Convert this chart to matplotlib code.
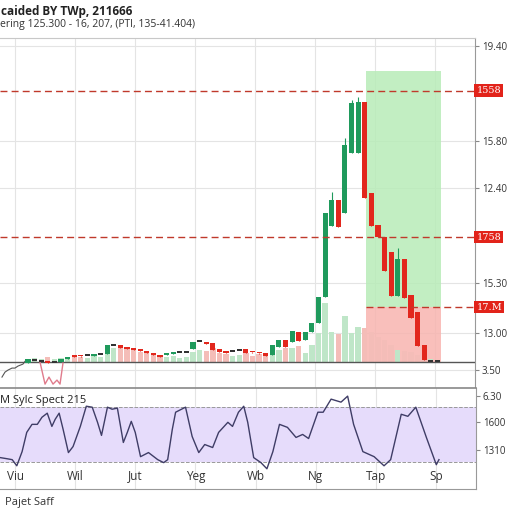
import numpy as np
import matplotlib.pyplot as plt

plt.rcParams['font.family'] = ['Open Sans', 'DejaVu Sans']

# candles (price units), one per session
opens = [1.25, 1.40, 1.35, 1.35, 1.30, 1.30, 1.45, 1.65, 1.60, 1.65,
         1.60, 1.70, 1.70, 2.15, 2.15, 2.05, 2.00, 1.95, 1.85, 1.75,
         1.65, 1.65, 1.70, 1.80, 1.80, 1.95, 2.35, 2.30, 2.25, 1.95,
         1.85, 1.85, 1.90, 1.95, 1.80, 1.75, 1.75, 1.65, 2.05, 2.40,
         2.30, 2.80, 2.40, 2.80, 3.25, 4.55, 8.10, 9.40, 8.75, 11.75,
         11.75, 14.30, 9.75, 8.15, 7.55, 6.80, 4.60, 6.45, 4.65, 3.80,
         2.15, 1.35, 1.35]
closes = [1.45, 1.40, 1.35, 1.25, 1.30, 1.45, 1.55, 1.55, 1.55, 1.65,
          1.70, 1.70, 2.15, 2.15, 2.00, 1.95, 1.90, 1.85, 1.75, 1.65,
          1.55, 1.75, 1.80, 1.80, 1.80, 2.30, 2.35, 2.20, 1.90, 1.80,
          1.75, 1.85, 1.90, 1.75, 1.75, 1.70, 1.60, 2.15, 2.40, 2.05,
          2.85, 2.35, 2.80, 3.25, 4.55, 8.75, 9.40, 8.05, 12.15, 14.25,
          14.30, 9.50, 8.10, 7.55, 5.85, 4.60, 6.45, 4.50, 3.50, 2.10,
          1.40, 1.35, 1.35]
highs = [max(o, c) for o, c in zip(opens, closes)]
highs[46] = 9.80
highs[48] = 12.50
highs[49] = 14.40
highs[50] = 14.55
highs[56] = 7.00
lows = [min(o, c) for o, c in zip(opens, closes)]

volume = [3, 4, 3, 5, 3, 4, 5, 6, 5, 4, 6, 5,
          17, 14, 15, 13, 12, 10, 9, 8, 6,
          5, 6, 4, 5,
          10, 12, 11, 14, 9, 8,
          6, 7, 9, 6, 8, 7,
          10, 12, 14,
          14, 16, 9, 17,
          29, 59, 30, 28, 46, 29, 35, 34, 30, 25, 22, 17, 12, 11, 10, 7, 5, 3, 2]

# lead-in trace and the pink dip at the start
lead_x = [-3.94, -3.48, -3.03, -2.42, -1.97, -1.52, -0.76, -0.30]
lead_y = [0.55, 0.80, 0.90, 1.00, 1.00, 1.10, 1.20, 1.40]
dip_x = [1.82, 2.58, 3.18, 3.79, 4.39, 4.85, 5.30]
dip_y = [1.30, 0.20, 0.55, 0.20, 0.40, 0.20, 1.25]

# levels
levels = [14.85, 7.55, 4.05]
level_labels = ['1558', '1758', '17.M']
zone_x = (51.2, 62.6)
zone_top, zone_mid, zone_bot = 15.85, 4.05, 1.30
baseline = 1.30

price_ticks = [17.1, 12.35, 10.0, 5.25, 2.75, 0.9]
price_labels = ['19.40', '15.80', '12.40', '15.30', '13.00', '3.50']

month_pos = [-1.97, 7.12, 16.21, 25.30, 34.39, 43.48, 52.58, 61.67]
months = ['Viu', 'Wil', 'Jut', 'Yeg', 'Wb', 'Ng', 'Tap', 'Sp']

# oscillator
osc_x = [-4.2, -3.2, -2.4, -1.7, -0.9, -0.2, 0.6, 1.4, 2.1, 2.9, 3.6, 4.1, 4.7, 5.3,
         6.1, 6.8, 7.9, 8.8, 9.7, 10.5, 11.1, 12.0, 12.7, 13.5, 14.4, 15.0, 15.6,
         16.2, 17.0, 18.2, 19.6, 20.5, 21.1, 21.8, 22.3, 23.8, 24.8, 25.8, 26.7,
         27.9, 28.8, 30.2, 30.9, 31.8, 32.6, 33.2, 34.1, 35.2, 36.1, 37.0, 38.0,
         39.2, 40.5, 41.5, 42.4, 43.8, 44.6, 45.8, 47.3, 48.3, 49.2, 50.6, 52.3,
         53.8, 54.8, 56.4, 57.4, 58.6, 60.2, 61.7, 62.1]
osc_v = [33.0, 32.2, 31.5, 27.0, 37.4, 51.5, 57.4, 57.4, 62.6, 65.6, 55.9, 61.1, 65.6,
         53.7, 36.7, 41.1, 55.9, 70.7, 70.0, 58.9, 49.3, 70.0, 68.5, 69.3, 44.1, 51.5,
         59.6, 51.5, 33.7, 36.7, 31.5, 29.3, 31.5, 53.7, 66.3, 70.0, 48.5, 36.7, 42.6,
         40.4, 51.5, 58.9, 55.9, 66.3, 70.7, 58.9, 33.0, 29.3, 24.8, 37.4, 57.4, 55.2,
         47.8, 50.0, 47.0, 66.3, 66.3, 75.9, 73.7, 78.1, 57.4, 37.4, 33.7, 27.0, 31.5,
         64.8, 63.3, 70.0, 47.8, 27.8, 31.5]
osc_ticks = [78.1, 58.9, 38.9]
osc_labels = ['6.30', '1600', '1310']

green = '#1f9a5c'
red = '#e2271d'
doji = '#333333'

fig = plt.figure(figsize=(5.12, 5.12), dpi=100)
ax = fig.add_axes([0.0, 0.242, 0.9277, 0.684])
ax2 = fig.add_axes([0.0, 0.045, 0.9297, 0.197], sharex=ax)

x = np.arange(len(opens))
o = np.array(opens)
c = np.array(closes)

ax.set_xlim(-4.24, 67.7)
ax.set_ylim(0, 17.5)

# zones
ax.fill_between(zone_x, zone_mid, zone_top, color='#b8ecb8', alpha=0.85, lw=0, zorder=1)
ax.fill_between(zone_x, zone_bot, zone_mid, color='#f8b4b0', alpha=0.85, lw=0, zorder=1)

# volume scaled into the price panel
vol_scale = 0.05
vcol = ['#bfe6c8' if cc >= oo else '#f4bdb8' for oo, cc in zip(opens, closes)]
ax.bar(x, np.array(volume) * vol_scale, 0.8, bottom=baseline, color=vcol, zorder=2)

ax.axhline(baseline, color='#555555', lw=1.0, zorder=3)

# candles
ccol = [green if cc > oo else (red if cc < oo else doji) for oo, cc in zip(opens, closes)]
ax.vlines(x, lows, highs, color=ccol, lw=0.8, zorder=4)
body = np.where(np.abs(c - o) < 0.06, 0.06, c - o)
ax.bar(x, body, 0.78, bottom=np.where(c == o, o - 0.03, o), color=ccol, lw=0, zorder=5)

ax.plot(lead_x, lead_y, color='#555555', lw=0.8, zorder=4)
ax.plot(dip_x, dip_y, color='#e07b8c', lw=1.0, zorder=4)

# level lines
for i, (lv, lab) in enumerate(zip(levels, level_labels)):
    xmin = 0 if i < 2 else (zone_x[0] + 4.24) / (67.7 + 4.24)
    ax.axhline(lv, xmin=xmin, color='#c0392b', lw=1.0, ls=(0, (5, 3)), zorder=6)
    ax.text(1.003, lv, lab, transform=ax.get_yaxis_transform(), color='white',
            fontsize=7, va='center', ha='left', family='DejaVu Serif',
            bbox=dict(boxstyle='square,pad=0.2', fc='#e2231a', ec='none'))

ax.set_yticks(price_ticks, price_labels)
ax.yaxis.tick_right()
ax.tick_params(axis='y', length=3, color='#888888', labelsize=7, labelcolor='#333333', pad=2)
ax.set_xticks(month_pos)
ax.tick_params(axis='x', length=0, labelbottom=False)
ax.grid(True, color='#e4e4e4', lw=0.8, zorder=0)
ax.set_axisbelow(True)
for s in ['left', 'bottom']:
    ax.spines[s].set_visible(False)
ax.spines['top'].set_color('#c8c8c8')
ax.spines['right'].set_color('#999999')

# oscillator panel
ax2.set_ylim(10, 84)
ax2.axhspan(30, 70, color='#e6dcfb', lw=0, zorder=1)
ax2.axhline(30, color='#999999', lw=0.7, ls='--', zorder=2)
ax2.axhline(70, color='#999999', lw=0.7, ls='--', zorder=2)
ax2.plot(osc_x, osc_v, color='#3f3d66', lw=1.0, zorder=3)
ax2.set_xticks(month_pos, months)
ax2.tick_params(axis='x', length=0, pad=-14, labelsize=8.5, labelcolor='#333333')
ax2.set_yticks(osc_ticks, osc_labels)
ax2.yaxis.tick_right()
ax2.tick_params(axis='y', length=3, color='#888888', labelsize=7, labelcolor='#333333', pad=2)
ax2.grid(True, axis='x', color='#e4e4e4', lw=0.8, zorder=0)
ax2.set_axisbelow(True)
ax2.spines['left'].set_visible(False)
ax2.spines['top'].set_color('#888888')
ax2.spines['top'].set_linewidth(1.2)
for s in ['right', 'bottom']:
    ax2.spines[s].set_color('#999999')
ax2.text(0.0, 0.88, 'M Sylc Spect 215', transform=ax2.transAxes, fontsize=8,
         color='#222222', va='center', ha='left')

fig.text(0.002, 1 - 11 / 512, 'caided BY TWp, 211666', fontsize=8.5, fontweight='bold',
         color='#222222', va='center', ha='left')
fig.text(0.0, 1 - 24 / 512, 'ering 125.300 - 16, 207, (PTI, 135-41.404)', fontsize=7.5,
         color='#333333', va='center', ha='left')
fig.text(0.01, 1 - 503 / 512, 'Pajet Saff', fontsize=8, color='#333333', va='center', ha='left')

fig.savefig('out.png', dpi=100, facecolor='white')
